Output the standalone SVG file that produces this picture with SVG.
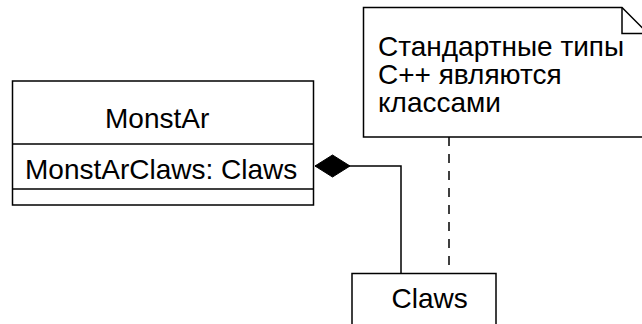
<svg xmlns="http://www.w3.org/2000/svg" width="642" height="324" viewBox="0 0 642 324">
  <style>
    .shape { fill: #ffffff; stroke: #000000; stroke-width: 1.5; }
    .line { fill: none; stroke: #000000; stroke-width: 1.5; }
    .dashed { fill: none; stroke: #000000; stroke-width: 1.5; stroke-dasharray: 9 8; }
    .label { font-family: "Liberation Sans", Arial, sans-serif; font-size: 28px; fill: #000000; }
  </style>
  <defs>
    <!-- filled diamond for composition; tip sits on the path end -->
    <marker id="composition" markerUnits="userSpaceOnUse" markerWidth="38" markerHeight="26" viewBox="0 0 38 26" refX="36.5" refY="13" orient="auto">
      <polygon points="1.5,13 19,2 36.5,13 19,24" fill="#000000" stroke="#000000" stroke-width="1"/>
    </marker>
  </defs>

  <rect width="642" height="324" fill="#ffffff"/>

  <!-- class MonstAr -->
  <g id="monstar">
    <rect class="shape" x="12.5" y="81" width="301" height="124"/>
    <line class="line" x1="12.5" y1="144" x2="313.5" y2="144"/>
    <line class="line" x1="12.5" y1="189" x2="313.5" y2="189"/>
    <text class="label" x="105" y="128">MonstAr</text>
    <text class="label" x="25" y="179">MonstArClaws: Claws</text>
  </g>

  <!-- note -->
  <g id="note">
    <path class="shape" d="M363.5 7.5 H622 L648 33.5 V137 H363.5 Z"/>
    <path class="line" d="M622 7.5 V33.5 H648"/>
    <text class="label" x="378" y="56">Стандартные типы</text>
    <text class="label" x="378" y="84">С++ являются</text>
    <text class="label" x="378" y="112">классами</text>
  </g>

  <!-- class Claws -->
  <g id="claws">
    <rect class="shape" x="352" y="273.5" width="144" height="60"/>
    <text class="label" x="391.5" y="308">Claws</text>
  </g>

  <!-- connectors -->
  <g id="connectors">
    <path class="line" d="M401 273.5 V166 H315" marker-end="url(#composition)"/>
    <line class="dashed" x1="449" y1="137" x2="449" y2="273.5"/>
  </g>
</svg>
